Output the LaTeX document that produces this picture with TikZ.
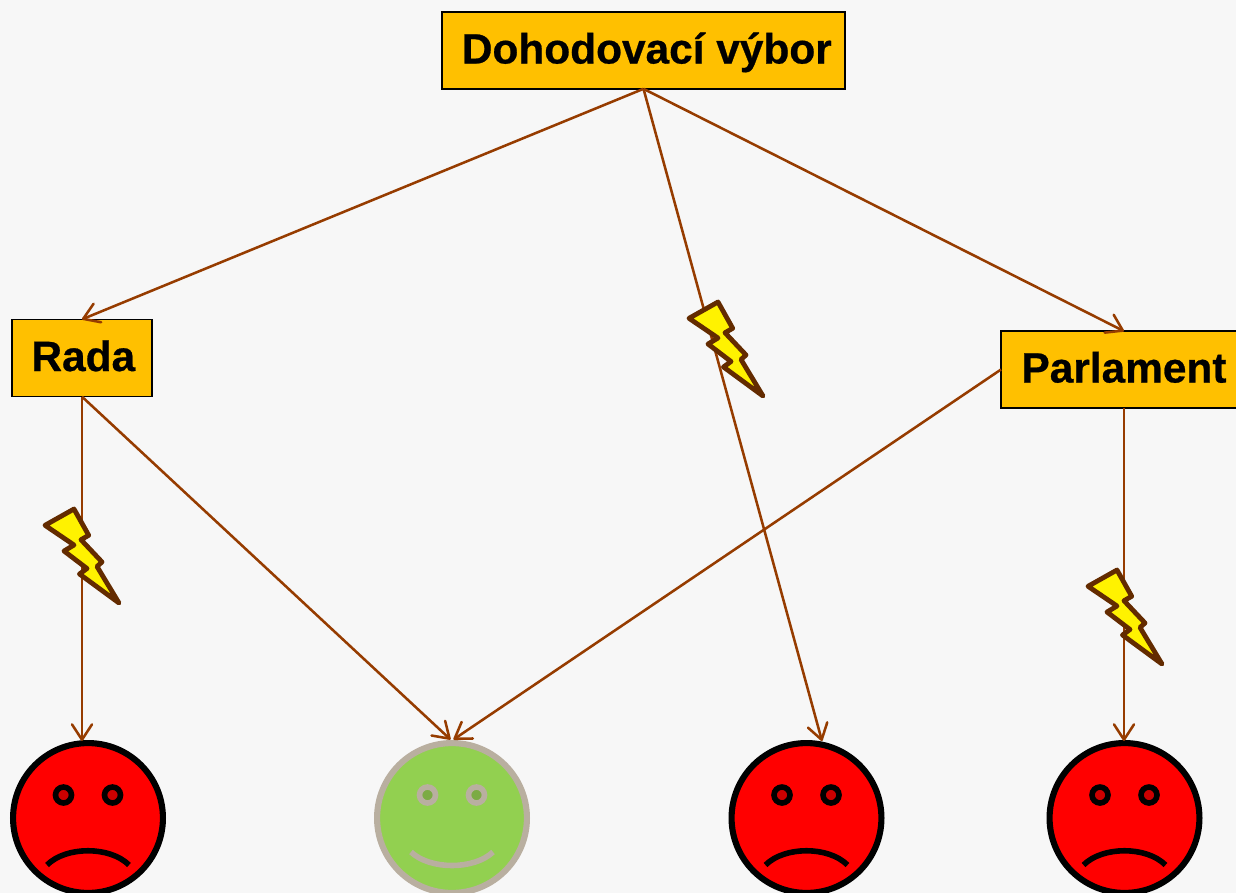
\documentclass[tikz,border=0pt]{standalone}
\usepackage{fontspec}
\setmainfont{Liberation Sans}[BoldFeatures={FakeBold=0.6}]
\usetikzlibrary{arrows.meta}
\definecolor{bgc}{HTML}{F7F7F7}
\definecolor{boxc}{HTML}{FFC000}
\definecolor{linec}{HTML}{963C00}
\definecolor{boltc}{HTML}{632B00}
\definecolor{greenf}{HTML}{92D050}
\definecolor{greene}{HTML}{7CAB44}
\definecolor{greyc}{HTML}{B9AFA0}
\definecolor{rede}{HTML}{CC0000}
\tikzset{
  x=0.75pt,y=-0.75pt,
  titlebox/.style={draw=black,line width=1.1pt,fill=boxc,inner sep=0pt,outer sep=0pt,
    font=\fontsize{31.8}{32}\bfseries,text height=20pt,text depth=0.5pt,align=center},
  link/.style={draw=linec,line width=1.9pt,-{Straight Barb[length=11.5pt,width=15pt,line width=1.9pt,round]}},
  bolt/.style={draw=boltc,fill=yellow,line width=3.6pt,line join=round},
  sad/.style={circle,draw=black,fill=red,line width=4.6pt,minimum size=112.4pt,inner sep=0pt,outer sep=0pt},
  happy/.style={circle,draw=greyc,fill=greenf,line width=4.6pt,minimum size=112.4pt,inner sep=0pt,outer sep=0pt},
  saddetail/.style={draw=black,line width=4.2pt},
  happydetail/.style={draw=greyc,line width=4.2pt},
}
\newcommand{\drawbolt}[2]{%
  \draw[bolt,shift={(#1,#2)}] (689,318.3) -- (718,302) -- (732.7,328.3) -- (725,332.7)
    -- (746,355) -- (741,359.5) -- (763,396) -- (723.5,367) -- (731,361.5)
    -- (708,344) -- (718,338) -- cycle;}
\newcommand{\faceeyes}[3]{%
  \foreach \dx in {-24.5,24.5}{
    \draw[#2,fill=#3] ([shift={(\dx,-23)}]#1.center) circle[radius=6pt];}
}
\begin{document}
\begin{tikzpicture}
\useasboundingbox (0,0) rectangle (1236,893);
\clip (0,0) rectangle (1236,893);
\fill[bgc] (0,0) rectangle (1236,893);
% boxes
\node[titlebox,minimum width=302pt,minimum height=57.5pt] (dv) at (643.5,50.5) {\hspace{5pt}Dohodovací výbor};
\node[titlebox,minimum width=105pt,minimum height=58pt] (rada) at (82,358) {\hspace{2pt}Rada};
\node[titlebox,minimum width=184.5pt,minimum height=57.5pt] (parl) at (1124,369.5) {Parlament};
% faces
\node[sad] (f1) at (88,818) {};
\node[happy] (f2) at (452,818) {};
\node[sad] (f3) at (806.5,818) {};
\node[sad] (f4) at (1124.5,818) {};
\coordinate (t1) at (82,741);
\coordinate (t2a) at (450.5,739.5);
\coordinate (t2b) at (453.5,739.5);
\coordinate (t3) at (822,741);
\coordinate (t4) at (1124,741);
\coordinate (pl) at (1001,369.5);
% connectors
\draw[link] (dv.south) -- (rada.north);
\draw[link] (dv.south) -- (parl.north);
\draw[link] (dv.south) -- (t3);
\draw[link] (rada.south) -- (t1);
\draw[link] (rada.south) -- (t2a);
\draw[link] (pl) -- (t2b);
\draw[link] (parl.south) -- (t4);
% eyes and mouths
\faceeyes{f1}{saddetail}{rede}
\faceeyes{f3}{saddetail}{rede}
\faceeyes{f4}{saddetail}{rede}
\faceeyes{f2}{happydetail}{greene}
\foreach \f in {f1,f3,f4}{
  \draw[saddetail] ([shift={(-41,47)}]\f.center) .. controls ([shift={(-22,28)}]\f.center) and ([shift={(22,28)}]\f.center) .. ([shift={(41,47)}]\f.center);}
\draw[happydetail] ([shift={(-41,34)}]f2.center) .. controls ([shift={(-22,52)}]f2.center) and ([shift={(22,52)}]f2.center) .. ([shift={(41,34)}]f2.center);
% bolts
\drawbolt{0}{0}
\drawbolt{-644}{207}
\drawbolt{399}{268}
\end{tikzpicture}
\end{document}
